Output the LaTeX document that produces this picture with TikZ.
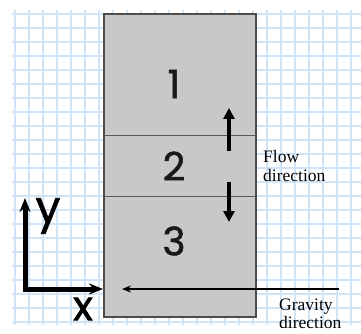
\documentclass[tikz,border=0pt]{standalone}
\usepackage{fontspec}
\setmainfont{Liberation Serif}
\newfontfamily\geofont[FakeBold=1.5]{Poppins}
\usetikzlibrary{arrows.meta}
\definecolor{gridblue}{RGB}{208,228,246}
\definecolor{boxgray}{RGB}{200,200,200}
\begin{document}
\begin{tikzpicture}[x=1pt,y=-1pt,
  gridline/.style={gridblue,line width=1.3pt},
  region/.style={fill=boxgray,draw=black!70,line width=1.2pt},
  divider/.style={draw=black!65,line width=1pt},
  num/.style={font=\geofont\fontsize{39}{40}\selectfont,text=black!90},
  flowarrow/.style={line width=3.6pt,-{Triangle[length=11pt,width=11pt]}},
  gravarrow/.style={line width=2.4pt,-{Stealth[length=9pt,width=7pt]}},
  axis/.style={line width=5pt,-{Stealth[length=14pt,width=11pt]}},
  lbl/.style={font=\fontsize{17.5}{18.5}\selectfont,align=left,inner sep=0pt},
  axlbl/.style={font=\geofont\fontsize{44}{44}\selectfont,inner sep=0pt},
  xlbl/.style={font=\geofont\fontsize{41}{41}\selectfont,inner sep=0pt}]
\useasboundingbox (0,0) rectangle (361,334);
\fill[white] (0,0) rectangle (361,334);
% grid
\foreach \gx in {15,29,...,361} \draw[gridline] (\gx,10) -- (\gx,325);
\foreach \gy in {14,28,...,325} \draw[gridline] (12,\gy) -- (361,\gy);
% domain
\node[region,minimum width=152pt,minimum height=303pt,inner sep=0pt] (dom) at (180,165.5) {};
\coordinate (d1l) at (104,135); \coordinate (d1r) at (256,135);
\coordinate (d2l) at (104,196); \coordinate (d2r) at (256,196);
\draw[divider] (d1l) -- (d1r);
\draw[divider] (d2l) -- (d2r);
\node[num] (n1) at (174,84) {1};
\node[num] (n2) at (174,166) {2};
\node[num] (n3) at (174,241) {3};
% flow arrows
\coordinate (u0) at (229,151); \coordinate (u1) at (229,108);
\coordinate (w0) at (229,182); \coordinate (w1) at (229,222);
\draw[flowarrow] (u0) -- (u1);
\draw[flowarrow] (w0) -- (w1);
\node[lbl,anchor=west] (flow) at (263,166) {Flow\\direction};
% gravity
\coordinate (g0) at (339,289); \coordinate (g1) at (122,289);
\draw[gravarrow] (g0) -- (g1);
\node[lbl,anchor=west] (grav) at (279,314) {Gravity\\direction};
% axes
\coordinate (o) at (25,289);
\coordinate (ytip) at (25,198);
\coordinate (xtip) at (103,289);
\draw[axis] ([yshift=-2.5pt]o) -- (ytip);
\draw[axis] ([xshift=-2.5pt]o) -- (xtip);
\node[axlbl] (ylab) at (48,216) {y};
\node[xlbl] (xlab) at (83,309) {x};
\end{tikzpicture}
\end{document}
